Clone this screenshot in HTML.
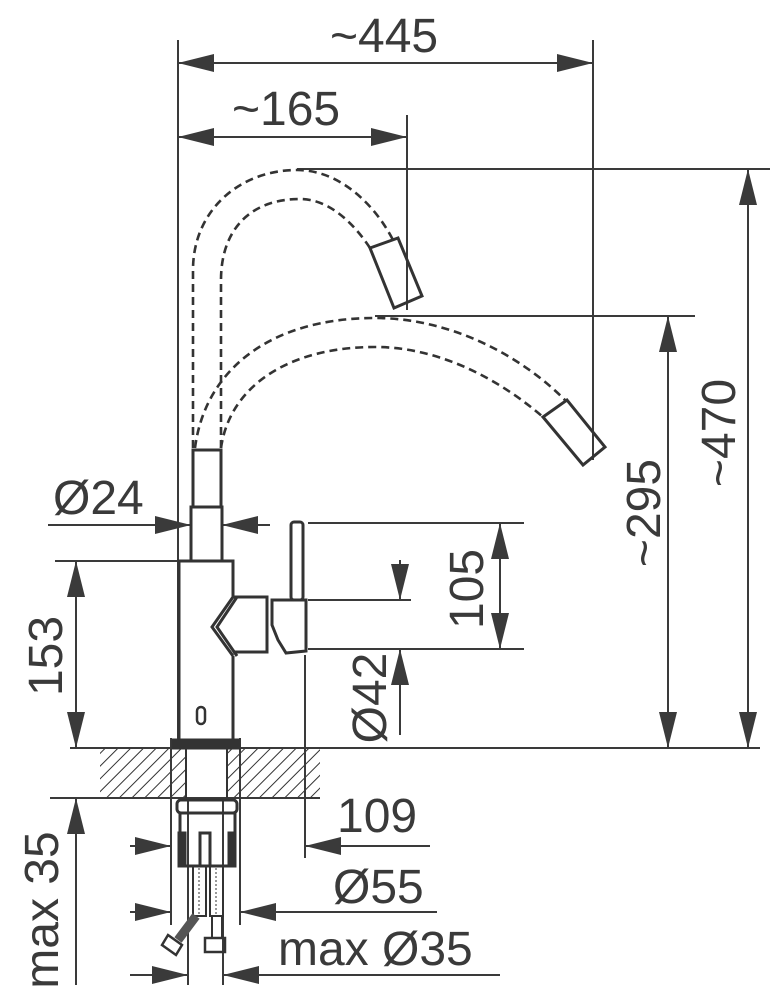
<!DOCTYPE html>
<html><head><meta charset="utf-8"><style>
html,body{margin:0;padding:0;background:#fff}
svg{display:block}
text{font-family:"Liberation Sans",sans-serif;font-size:48px;fill:#3a3a3a}
</style></head><body>
<svg width="776" height="1000" viewBox="0 0 776 1000" xmlns="http://www.w3.org/2000/svg">
<defs>
<pattern id="h" patternUnits="userSpaceOnUse" width="9" height="9" patternTransform="rotate(45)">
<line x1="0" y1="0" x2="0" y2="9" stroke="#333" stroke-width="2"/>
</pattern>
<marker id="a" viewBox="0 0 36 18" refX="36" refY="9" markerWidth="36" markerHeight="18" markerUnits="userSpaceOnUse" orient="auto-start-reverse">
<path d="M0,0 L36,9 L0,18 Z" fill="#3a3a3a"/>
</marker>
</defs>
<g stroke="#3a3a3a" fill="none" stroke-width="2">
<rect x="100" y="748" width="86" height="50" fill="url(#h)" stroke="none"/>
<rect x="227" y="748" width="93" height="50" fill="url(#h)" stroke="none"/>
<line x1="178" y1="40" x2="178" y2="745"/>
<line x1="593" y1="40" x2="593" y2="460"/>
<line x1="407" y1="115" x2="407" y2="310"/>
<line x1="297" y1="169" x2="770" y2="169"/>
<line x1="375" y1="316" x2="695" y2="316"/>
<line x1="70" y1="748" x2="760" y2="748"/>
<line x1="50" y1="798" x2="320" y2="798"/>
<line x1="55" y1="561" x2="178" y2="561"/>
<line x1="308" y1="523" x2="524" y2="523"/>
<line x1="308" y1="649" x2="524" y2="649"/>
<line x1="308" y1="600" x2="411" y2="600"/>
<line x1="305" y1="655" x2="305" y2="858"/>
<line x1="171" y1="738" x2="171" y2="925"/>
<line x1="240" y1="738" x2="240" y2="925"/>
<line x1="188" y1="800" x2="188" y2="985"/>
<line x1="223" y1="800" x2="223" y2="985"/>
<line x1="178" y1="63" x2="593" y2="63" marker-start="url(#a)" marker-end="url(#a)"/>
<line x1="178" y1="137" x2="407" y2="137" marker-start="url(#a)" marker-end="url(#a)"/>
<line x1="748" y1="169" x2="748" y2="748" marker-start="url(#a)" marker-end="url(#a)"/>
<line x1="668" y1="316" x2="668" y2="748" marker-start="url(#a)" marker-end="url(#a)"/>
<line x1="500" y1="523" x2="500" y2="649" marker-start="url(#a)" marker-end="url(#a)"/>
<line x1="76" y1="561" x2="76" y2="748" marker-start="url(#a)" marker-end="url(#a)"/>
<line x1="76" y1="985" x2="76" y2="798" marker-end="url(#a)"/>
<line x1="48" y1="525" x2="191" y2="525" marker-end="url(#a)"/>
<line x1="270" y1="525" x2="222" y2="525" marker-end="url(#a)"/>
<line x1="400" y1="560" x2="400" y2="600" marker-end="url(#a)"/>
<line x1="400" y1="735" x2="400" y2="649" marker-end="url(#a)"/>
<line x1="130" y1="846" x2="171" y2="846" marker-end="url(#a)"/>
<line x1="430" y1="846" x2="305" y2="846" marker-end="url(#a)"/>
<line x1="130" y1="912" x2="171" y2="912" marker-end="url(#a)"/>
<line x1="437" y1="912" x2="240" y2="912" marker-end="url(#a)"/>
<line x1="130" y1="975" x2="188" y2="975" marker-end="url(#a)"/>
<line x1="500" y1="975" x2="223" y2="975" marker-end="url(#a)"/>
</g>
<g stroke="#333" fill="none" stroke-width="3">
<g stroke-dasharray="8 5" stroke-width="2.6">
<path d="M193,448 L193,270 C193,210 240,170 297,170 C340,170 375,205 393,240"/>
<path d="M221,448 L221,280 C221,230 250,199 300,199 C330,199 355,225 370,248"/>
<path d="M195,448 C205,370 270,318 375,318 C450,318 520,355 565,400"/>
<path d="M221,448 C230,385 290,347 375,347 C440,347 500,380 543,417"/>
</g>
<polygon points="370,248 398,238 422,296 394,308"/>
<polygon points="543,417 567,400 605,447 583,465"/>
<rect x="193" y="450" width="28" height="57"/>
<rect x="191" y="507" width="31" height="54"/>
<path d="M233,597 L233,561 L179,561 L179,740 L233,740 L233,656"/>
<path d="M233,597 L212,627 L233,656 M237,597 L217,627 L237,656"/>
<path d="M233,597 L267,597 L267,652 L233,652"/>
<path d="M272,600 L306,600 L306,651 L286,653 L278,640 L272,625 Z"/>
<rect x="291" y="522" width="12" height="78" rx="3"/>
<rect x="197" y="707" width="8" height="17" rx="4" stroke-width="2.5"/>
<rect x="173" y="740" width="66" height="8" fill="#333"/>
<line x1="186" y1="748" x2="186" y2="798" stroke-width="2"/>
<line x1="227" y1="748" x2="227" y2="798" stroke-width="2"/>
<rect x="177" y="800" width="60" height="13" rx="4"/>
<rect x="180" y="813" width="55" height="53"/>
<rect x="179" y="833" width="6" height="33" fill="#333"/>
<rect x="229" y="833" width="6" height="33" fill="#333"/>
<rect x="200" y="833" width="10" height="33"/>
<g stroke-width="2">
<rect x="193" y="866" width="13" height="50"/>
<rect x="210" y="866" width="13" height="50"/>
</g>
<g stroke-width="1" stroke-dasharray="2 2">
<line x1="199" y1="868" x2="199" y2="914"/><line x1="216" y1="868" x2="216" y2="914"/>
</g>
<path d="M196,916 L178,940" stroke-width="9" stroke="#555"/>
<polygon points="168,935 182,945 176,955 162,945" stroke-width="2.5"/>
<rect x="212" y="916" width="10" height="22" stroke-width="2"/>
<rect x="205" y="938" width="20" height="14" stroke-width="2.5"/>
</g>
<text x="330" y="52">~445</text>
<text x="232" y="125">~165</text>
<text x="53" y="514">Ø24</text>
<text x="337" y="832">109</text>
<text x="333" y="903">Ø55</text>
<text x="278" y="965">max Ø35</text>
<text transform="translate(735,433) rotate(-90)" text-anchor="middle">~470</text>
<text transform="translate(660,513) rotate(-90)" text-anchor="middle">~295</text>
<text transform="translate(483,589) rotate(-90)" text-anchor="middle">105</text>
<text transform="translate(386,698) rotate(-90)" text-anchor="middle">Ø42</text>
<text transform="translate(62,656) rotate(-90)" text-anchor="middle">153</text>
<text transform="translate(58,910) rotate(-90)" text-anchor="middle">max 35</text>
</svg>
</body></html>
